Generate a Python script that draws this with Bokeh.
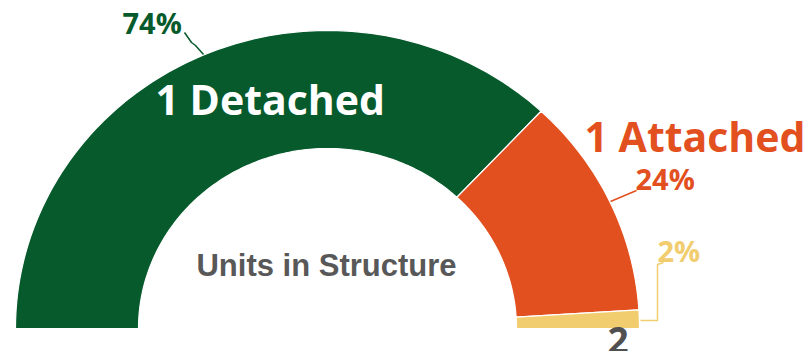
from math import pi, cos, sin
from bokeh.plotting import figure
from bokeh.models import Range1d
from bokeh.embed import file_html
from bokeh.resources import INLINE
from bokeh.core.properties import value

# ---- data ----
categories = ["1 Detached", "1 Attached", "2"]
shares = [74, 24, 2]
pct_labels = ["74%", "24%", "2%"]
colors = ["#065a2c", "#e3501f", "#f1cd6f"]
center_title = "Units in Structure"

W, H = 808, 351
p = figure(width=W, height=H, output_backend="svg", toolbar_location=None,
           x_range=Range1d(0, W), y_range=Range1d(0, H), min_border=0)
p.axis.visible = False
p.grid.visible = False
p.outline_line_color = None
p.background_fill_color = "white"
p.border_fill_color = "white"

def Y(sy):
    return H - sy  # screen y -> data y

def TY(baseline, size, k=0.37):
    # anchor for a text whose visible baseline should sit at screen y `baseline`
    return Y(baseline - k * size)

cx, cy = 327, Y(328)
rx_out, ry_out = 312, 298
rx_in, ry_in = 189, 180

# half donut (slightly elliptical): from left (pi) clockwise to right (0)
total = sum(shares)
xs, ys = [], []
a = pi
for s in shares:
    b = a - pi * s / total
    n = max(4, int(200 * s / total))
    angs = [a + (b - a) * i / n for i in range(n + 1)]
    ox = [cx + rx_out * cos(t) for t in angs]
    oy = [cy + ry_out * sin(t) for t in angs]
    ix = [cx + rx_in * cos(t) for t in reversed(angs)]
    iy = [cy + ry_in * sin(t) for t in reversed(angs)]
    xs.append(ox + ix)
    ys.append(oy + iy)
    a = b

p.patches(xs=xs, ys=ys, fill_color=colors, line_color="white", line_width=1.2)

# leader lines
p.line([184, 191, 195, 203], [Y(32), Y(42), Y(45), Y(54)], line_color=colors[0], line_width=1.5)
p.line([610, 636], [Y(201), Y(190)], line_color=colors[1], line_width=1.5)
p.line([640, 657, 657, 663], [Y(320), Y(320), Y(264), Y(262)], line_color=colors[2], line_width=1.5)

bold = "bold"
# category labels
p.text(x=[155], y=[TY(114, 41)], text=[categories[0]], text_color="white",
       text_font=value("Open Sans"), text_font_style=bold, text_font_size="41px",
       text_baseline="alphabetic")
p.text(x=[584], y=[TY(151, 41)], text=[categories[1]], text_color=colors[1],
       text_font=value("Open Sans"), text_font_style=bold, text_font_size="41px",
       text_baseline="alphabetic")
p.text(x=[607], y=[TY(354, 37)], text=[categories[2]], text_color="#505050",
       text_font=value("Open Sans"), text_font_style=bold, text_font_size="37px",
       text_baseline="alphabetic")

# percentage labels
p.text(x=[122, 635, 657], y=[TY(33, 29), TY(189, 29), TY(261, 29)], text=pct_labels,
       text_color=colors, text_font=value("Open Sans"), text_font_style=bold,
       text_font_size="29px", text_baseline="alphabetic")

# centre title
p.text(x=[326], y=[TY(276, 31, 0.34)], text=[center_title], text_color="#585858",
       text_font=value("Liberation Sans"), text_font_style=bold, text_font_size="31px",
       text_align="center", text_baseline="alphabetic")

open("out.html", "w").write(file_html(p, INLINE))
